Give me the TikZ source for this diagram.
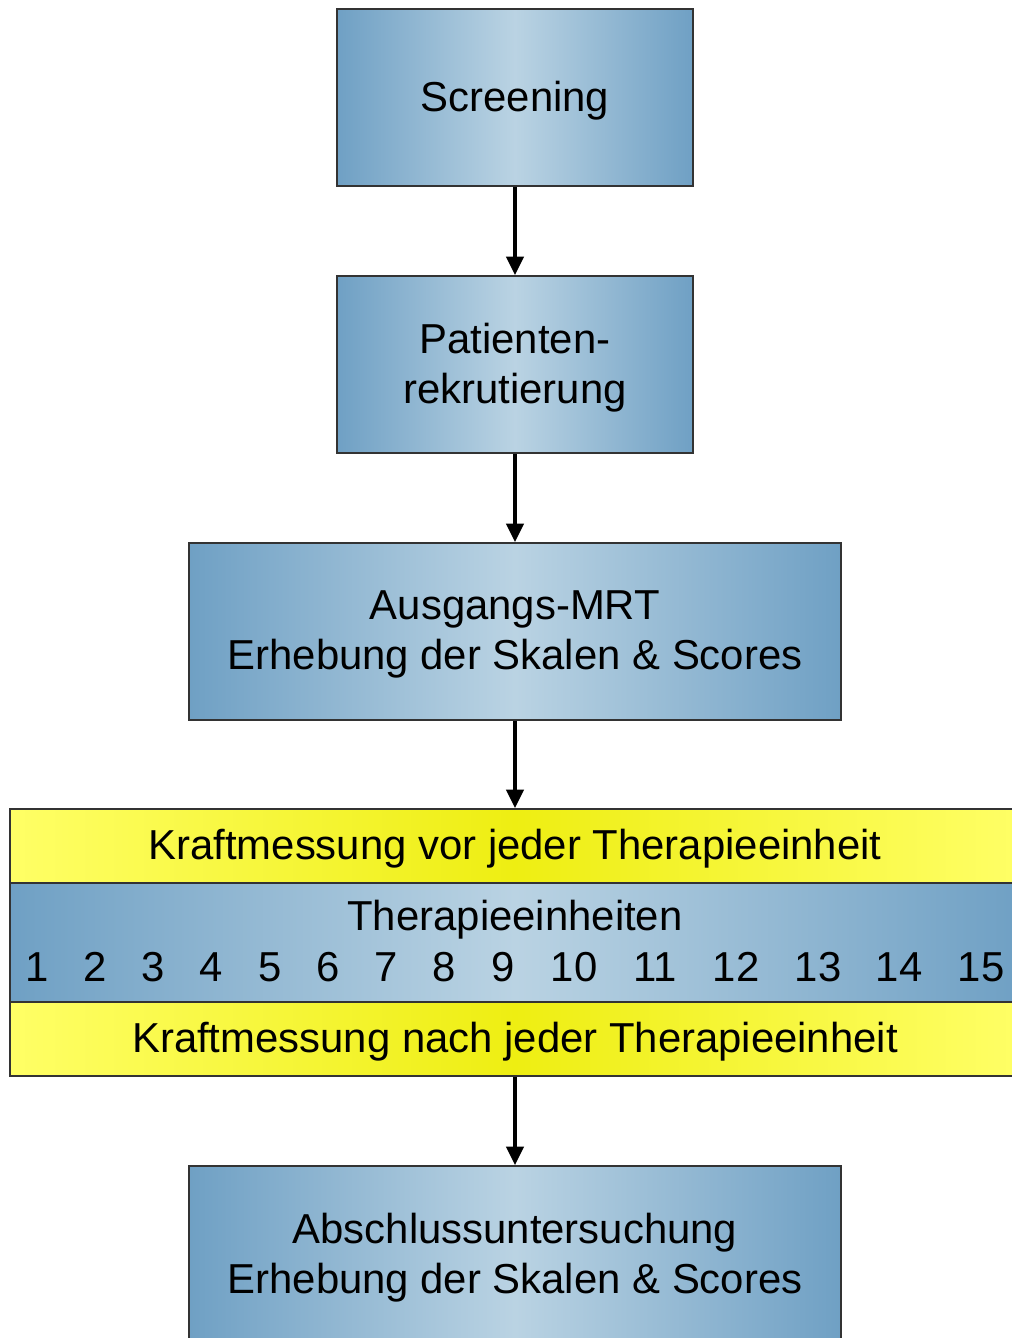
\documentclass[tikz,border=0pt]{standalone}
\usepackage{fontspec}
\setmainfont{Liberation Sans}
\usetikzlibrary{arrows.meta}
\definecolor{bedge}{HTML}{6FA0C4}
\definecolor{bmid}{HTML}{BAD3E3}
\definecolor{yedge}{HTML}{FFFF66}
\definecolor{ymid}{HTML}{EEEE12}
\definecolor{bord}{HTML}{333333}
\newcommand{\lowtxt}[1]{\raisebox{-2.2pt}[\height][\depth]{#1}}
\tikzset{
  bluebox/.style={draw=bord, line width=1.2pt, rectangle, inner sep=0pt, align=center,
    left color=bedge, right color=bedge, middle color=bmid,
    font=\fontsize{31.4}{37.5}\selectfont},
  yellowbox/.style={draw=bord, line width=1.2pt, rectangle, inner sep=0pt, align=center,
    left color=yedge, right color=yedge, middle color=ymid,
    font=\fontsize{31.4}{37.5}\selectfont},
  lbl/.style={inner sep=0pt, font=\fontsize{31.4}{37.5}\selectfont},
  flow/.style={line width=2.6pt, -{Triangle[length=14pt,width=13pt]}}
}
\begin{document}
\begin{tikzpicture}[x=0.75pt,y=-0.75pt]
\useasboundingbox (0,0) rectangle (1012,1338);
\clip (0,0) rectangle (1012,1338);
\node[bluebox, minimum width=267pt, minimum height=132.75pt] (scr) at (515,97.5) {\lowtxt{Screening}};
\node[bluebox, minimum width=267pt, minimum height=132.75pt] (pat) at (515,364.5) {\lowtxt{Patienten-}\\\lowtxt{rekrutierung}};
\node[bluebox, minimum width=489pt, minimum height=132.75pt] (aus) at (515,631.5) {\lowtxt{Ausgangs-MRT}\\\lowtxt{Erhebung der Skalen \& Scores}};
\node[yellowbox, minimum width=757.5pt, minimum height=55.5pt] (vor) at (515,846) {\lowtxt{Kraftmessung vor jeder Therapieeinheit}};
\node[bluebox, minimum width=757.5pt, minimum height=89.25pt] (ther) at (515,942.5) {};
\node[yellowbox, minimum width=757.5pt, minimum height=55.5pt] (nach) at (515,1039) {\lowtxt{Kraftmessung nach jeder Therapieeinheit}};
\node[bluebox, minimum width=489pt, minimum height=132.75pt] (abs) at (515,1254.5) {\lowtxt{Abschlussuntersuchung}\\\lowtxt{Erhebung der Skalen \& Scores}};
\node[lbl] (tt) at (515,920) {Therapieeinheiten};
\foreach \n/\x in {1/37,2/95,3/153,4/211,5/270,6/328,7/386,8/444,9/503,10/574,11/655,12/736,13/818,14/899,15/981}
  \node[lbl, anchor=base] (n\n) at (\x,981) {\n};
\draw[flow] (scr.south) -- (pat.north);
\draw[flow] (pat.south) -- (aus.north);
\draw[flow] (aus.south) -- (vor.north);
\draw[flow] (nach.south) -- (abs.north);
\end{tikzpicture}
\end{document}
